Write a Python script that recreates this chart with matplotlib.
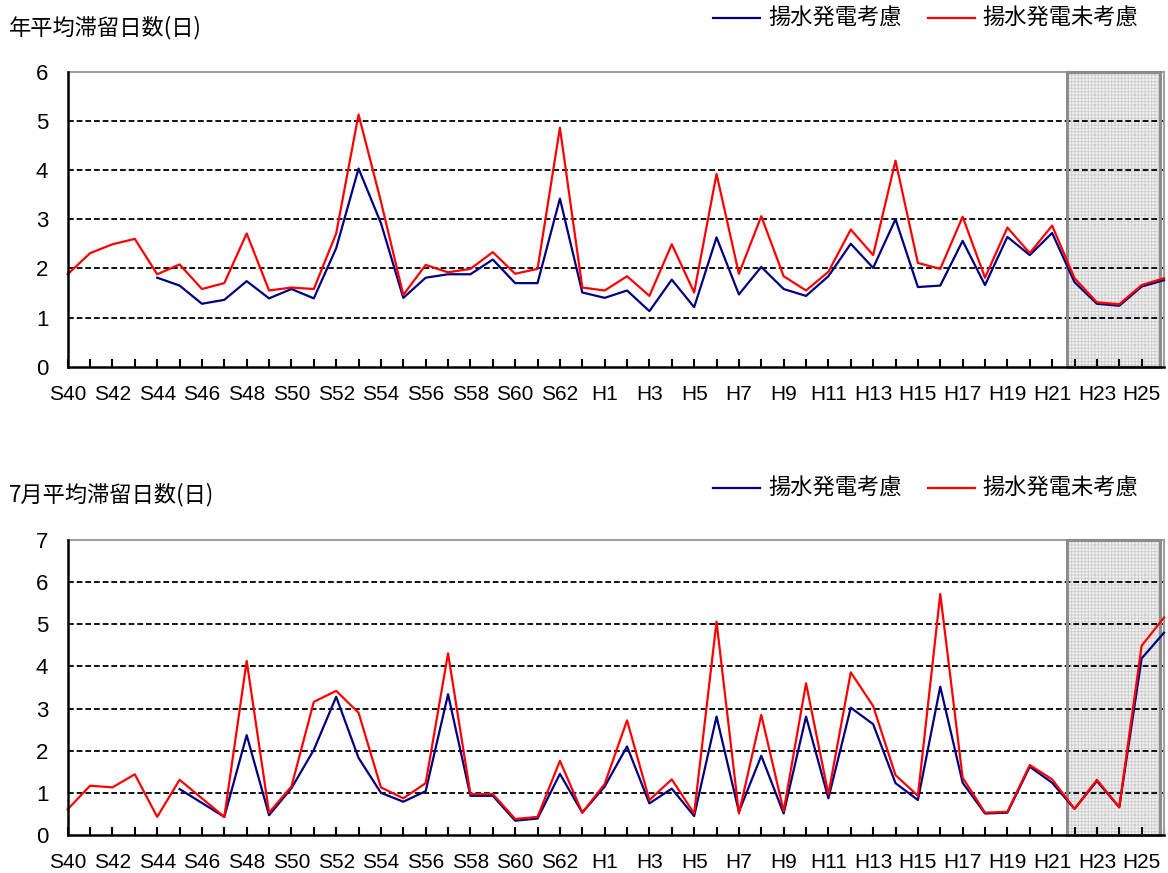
import matplotlib
matplotlib.use("Agg")
import matplotlib.pyplot as plt
from matplotlib.lines import Line2D
from matplotlib.patches import Rectangle
import numpy as np

# ---- data ----
years = [f"S{y}" for y in range(40, 64)] + [f"H{y}" for y in range(1, 27)]

annual_without = [1.88, 2.31, 2.49, 2.60, 1.88, 2.08, 1.58, 1.70, 2.71, 1.55,
                  1.61, 1.58, 2.71, 5.13, 3.36, 1.46, 2.07, 1.92, 1.99, 2.33,
                  1.89, 1.99, 4.86, 1.61, 1.55, 1.84, 1.44, 2.49, 1.51, 3.92,
                  1.89, 3.06, 1.84, 1.55, 1.93, 2.79, 2.27, 4.19, 2.11, 1.99,
                  3.05, 1.81, 2.83, 2.31, 2.87, 1.80, 1.31, 1.27, 1.66, 1.80]
annual_with = [None, None, None, None, 1.81, 1.65, 1.28, 1.36, 1.74, 1.39,
               1.58, 1.39, 2.41, 4.03, 2.92, 1.40, 1.81, 1.88, 1.88, 2.18,
               1.70, 1.70, 3.42, 1.51, 1.40, 1.55, 1.13, 1.77, 1.21, 2.63,
               1.47, 2.03, 1.58, 1.44, 1.84, 2.50, 2.01, 3.00, 1.62, 1.65,
               2.56, 1.66, 2.64, 2.27, 2.72, 1.72, 1.28, 1.24, 1.63, 1.76]

july_without = [0.61, 1.17, 1.13, 1.44, 0.43, 1.31, 0.87, 0.43, 4.13, 0.53,
                1.15, 3.16, 3.42, 2.90, 1.13, 0.87, 1.23, 4.31, 0.97, 0.97,
                0.38, 0.43, 1.76, 0.53, 1.21, 2.72, 0.83, 1.32, 0.51, 5.06,
                0.51, 2.85, 0.57, 3.60, 0.97, 3.86, 3.06, 1.42, 0.93, 5.72,
                1.36, 0.53, 0.55, 1.66, 1.32, 0.62, 1.31, 0.66, 4.49, 5.16]
july_with = [None, None, None, None, None, 1.09, 0.76, 0.43, 2.37, 0.47,
             1.11, 2.02, 3.28, 1.83, 1.00, 0.79, 1.04, 3.34, 0.93, 0.93,
             0.34, 0.39, 1.45, 0.53, 1.15, 2.10, 0.75, 1.10, 0.45, 2.81,
             0.55, 1.88, 0.51, 2.81, 0.87, 3.02, 2.63, 1.23, 0.83, 3.52,
             1.24, 0.51, 0.53, 1.62, 1.24, 0.62, 1.28, 0.66, 4.19, 4.80]

titles = ["年平均滞留日数(日)", "7月平均滞留日数(日)"]
legend_labels = ["揚水発電考慮", "揚水発電未考慮"]
ymaxes = [6, 7]

BLUE = "#000080"
RED = "#ff0000"

plt.rcParams['font.family'] = ['Noto Sans CJK JP', 'DejaVu Sans']
plt.rcParams['hatch.linewidth'] = 0.7
plt.rcParams['hatch.color'] = '#cfcfcf'
TICKFONT = ['Liberation Sans Narrow', 'Liberation Sans', 'DejaVu Sans']

fig = plt.figure(figsize=(11.68, 8.73), dpi=100)
W, H = 1168, 873

def fx(px):
    return px / W

def fy(py):
    return 1 - py / H

panels = [
    (annual_with, annual_without, 71.7, 366.7, 28, 18),
    (july_with, july_without, 540, 835, 495, 488),
]

x = np.arange(len(years))
for k, (blue, red, top_px, bot_px, title_py, leg_py) in enumerate(panels):
    ax = fig.add_axes([fx(67.7), fy(bot_px), fx(1164 - 67.7), (bot_px - top_px) / H])
    ymax = ymaxes[k]
    ax.set_xlim(0, len(years) - 1)
    ax.set_ylim(0, ymax)

    # shaded box
    ax.add_patch(Rectangle((44.65, 0), 48.8 - 44.65, ymax, facecolor="#f2f2f2",
                           edgecolor="#cfcfcf", hatch="+++++", linewidth=0, zorder=0.5))
    ax.add_patch(Rectangle((44.65, 0), 48.8 - 44.65, ymax, facecolor="none",
                           edgecolor="#8c8c8c", linewidth=2.2, zorder=3, clip_on=False))

    for yv in range(1, ymax):
        ax.axhline(yv, color="black", lw=1.3, linestyle=(0, (3.2, 1.6)), zorder=1)

    bvals = np.array([np.nan if v is None else v for v in blue], dtype=float)
    rvals = np.array([np.nan if v is None else v for v in red], dtype=float)
    ax.plot(x, bvals, color=BLUE, lw=1.6, zorder=4, clip_on=False)
    ax.plot(x, rvals, color=RED, lw=1.6, zorder=5, clip_on=False)

    for s in ("left", "bottom"):
        ax.spines[s].set_linewidth(1.8)
        ax.spines[s].set_color("black")
        ax.spines[s].set_zorder(6)
    for s in ("top", "right"):
        ax.spines[s].set_color("#a0a0a0")
        ax.spines[s].set_linewidth(1.5)
        ax.spines[s].set_linestyle((0, (1, 1)))

    ax.set_xticks(x)
    ax.set_xticklabels([lab if i % 2 == 0 else "" for i, lab in enumerate(years)])
    ax.tick_params(axis="x", direction="in", length=6, width=1.5, pad=13,
                   labelsize=15)
    ax.set_yticks(range(0, ymax + 1))
    ax.tick_params(axis="y", length=0, pad=14, labelsize=16)
    for lab in ax.get_xticklabels() + ax.get_yticklabels():
        lab.set_family(TICKFONT)

    fig.text(fx(9), fy(title_py), titles[k], fontsize=16, va="center", ha="left")
    # legend
    fig.add_artist(Line2D([fx(713), fx(760)], [fy(leg_py), fy(leg_py)], color=BLUE, lw=1.6))
    fig.text(fx(768), fy(leg_py), legend_labels[0], fontsize=16, va="center", ha="left")
    fig.add_artist(Line2D([fx(928), fx(975)], [fy(leg_py), fy(leg_py)], color=RED, lw=1.6))
    fig.text(fx(982), fy(leg_py), legend_labels[1], fontsize=16, va="center", ha="left")

fig.savefig("out.png", dpi=100)
